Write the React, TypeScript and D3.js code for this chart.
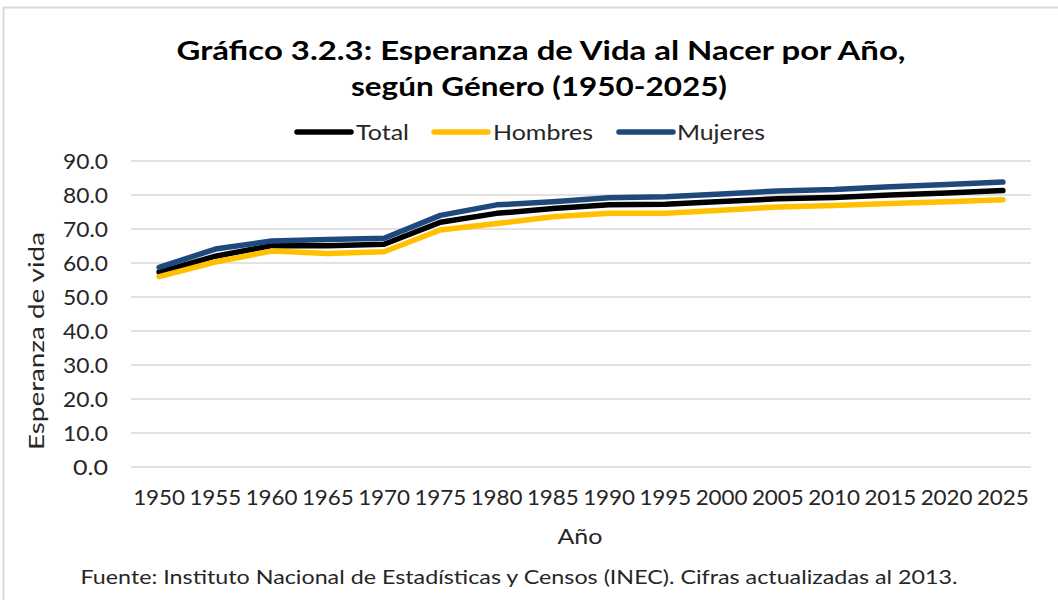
import React from "react";
import * as d3 from "d3";

const years = ["1950","1955","1960","1965","1970","1975","1980","1985","1990","1995","2000","2005","2010","2015","2020","2025"];
const total = [57.3, 62.0, 65.1, 65.1, 65.5, 72.0, 74.6, 76.0, 77.1, 77.3, 78.1, 78.9, 79.3, 80.0, 80.6, 81.3];
const hombres = [56.0, 60.3, 63.5, 62.8, 63.3, 69.7, 71.6, 73.6, 74.6, 74.6, 75.5, 76.5, 76.9, 77.5, 78.0, 78.6];
const mujeres = [58.7, 64.1, 66.5, 66.9, 67.3, 74.0, 77.1, 78.0, 79.2, 79.5, 80.3, 81.2, 81.6, 82.4, 83.1, 83.8];
const yTicks = [0, 10, 20, 30, 40, 50, 60, 70, 80, 90];

const seriesList = [
  { name: "Total", values: total, color: "#000000" },
  { name: "Hombres", values: hombres, color: "#FFC000" },
  { name: "Mujeres", values: mujeres, color: "#1F497D" },
];

const FONT = "Lato, 'Open Sans', sans-serif";
const TXT = "#262626";

export default function App() {
  const W = 1058, H = 600;
  const left = 131, right = 1031, top = 161, bottom = 467;
  const x = d3.scalePoint<string>().domain(years).range([left, right]).padding(0.5);
  const y = d3.scaleLinear().domain([0, 90]).range([bottom, top]);
  const line = (vals: number[]) =>
    d3.line<number>().x((_, i) => x(years[i]) as number).y((v) => y(v))(vals) || "";

  const legendItems = [
    { name: "Total", color: "#000000", x1: 297, x2: 351, tx: 356, tw: 53 },
    { name: "Hombres", color: "#FFC000", x1: 434, x2: 488, tx: 493, tw: 100 },
    { name: "Mujeres", color: "#1F497D", x1: 619, x2: 673, tx: 677, tw: 88 },
  ];

  return (
    <svg width={W} height={H} style={{ position: "absolute", left: 0, top: 0 }}>
      <rect x={0} y={0} width={W} height={H} fill="#ffffff" />
      <path d={`M3.5,${H} V7.5 H${W + 2}`} fill="none" stroke="#d9d9d9" strokeWidth={2} />
      <text x={541} y={60} textAnchor="middle" fontFamily={FONT} fontWeight="bold" fontSize={27} fill="#000"
        textLength={729} lengthAdjust="spacingAndGlyphs">
        Gráfico 3.2.3: Esperanza de Vida al Nacer por Año,
      </text>
      <text x={539} y={96} textAnchor="middle" fontFamily={FONT} fontWeight="bold" fontSize={27} fill="#000"
        textLength={376} lengthAdjust="spacingAndGlyphs">
        según Género (1950-2025)
      </text>
      {legendItems.map((l) => (
        <g key={l.name}>
          <line x1={l.x1} x2={l.x2} y1={132} y2={132} stroke={l.color} strokeWidth={5.5} strokeLinecap="round" />
          <text x={l.tx} y={140} fontFamily={FONT} fontSize={22} fill={TXT}
            textLength={l.tw} lengthAdjust="spacingAndGlyphs">{l.name}</text>
        </g>
      ))}
      {yTicks.map((t) => (
        <g key={t}>
          <line x1={left} x2={right} y1={y(t)} y2={y(t)} stroke="#d9d9d9" strokeWidth={1.5} />
          <text x={108} y={y(t) + 7.5} textAnchor="end" fontFamily={FONT} fontSize={21} fill={TXT}
            textLength={t === 0 ? 35 : 45} lengthAdjust="spacingAndGlyphs">
            {d3.format(".1f")(t)}
          </text>
        </g>
      ))}
      {years.map((yr) => (
        <text key={yr} x={x(yr)} y={505} textAnchor="middle" fontFamily={FONT} fontSize={21} fill={TXT}
          textLength={52} lengthAdjust="spacingAndGlyphs">
          {yr}
        </text>
      ))}
      {seriesList.map((s) => (
        <path key={s.name} d={line(s.values)} fill="none" stroke={s.color} strokeWidth={5.5}
          strokeLinejoin="round" strokeLinecap="round" />
      ))}
      <text x={580} y={544} textAnchor="middle" fontFamily={FONT} fontSize={22} fill={TXT}
        textLength={45} lengthAdjust="spacingAndGlyphs">Año</text>
      <text transform="translate(44,341) rotate(-90)" textAnchor="middle" fontFamily={FONT} fontSize={22} fill={TXT}
        textLength={218} lengthAdjust="spacingAndGlyphs">
        Esperanza de vida
      </text>
      <text x={519} y={584} textAnchor="middle" fontFamily={FONT} fontSize={19} fill={TXT}
        textLength={877} lengthAdjust="spacingAndGlyphs">
        Fuente: Instituto Nacional de Estadísticas y Censos (INEC). Cifras actualizadas al 2013.
      </text>
    </svg>
  );
}
